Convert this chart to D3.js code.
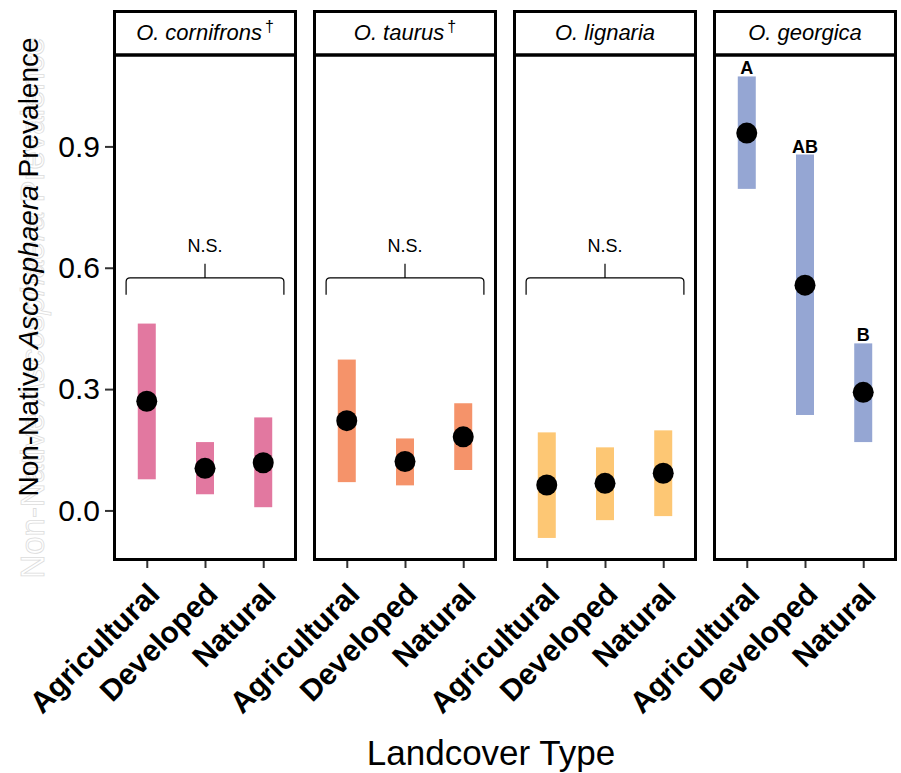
<!DOCTYPE html>
<html>
<head>
<meta charset="utf-8">
<script src="https://cdn.jsdelivr.net/npm/d3@7"></script>
<style>
  body { margin: 0; background: #fff; }
  svg { display: block; font-family: "Liberation Sans", Arial, sans-serif; }
</style>
</head>
<body>
<div id="chart"></div>
<script>
// data
const species = ["O. cornifrons", "O. taurus", "O. lignaria", "O. georgica"];
const hasDagger = [true, true, false, false];
const landcover = ["Agricultural", "Developed", "Natural"];

const prevalence = [
  [0.270, 0.104, 0.118],
  [0.222, 0.121, 0.182],
  [0.063, 0.067, 0.092],
  [0.933, 0.557, 0.292]
];
const lower = [
  [0.077, 0.040, 0.008],
  [0.070, 0.062, 0.100],
  [-0.068, -0.024, -0.014],
  [0.795, 0.236, 0.169]
];
const upper = [
  [0.462, 0.169, 0.230],
  [0.373, 0.178, 0.265],
  [0.193, 0.156, 0.198],
  [1.073, 0.880, 0.413]
];
const groupLetters = [null, null, null, ["A", "AB", "B"]];
const bracketLabel = ["N.S.", "N.S.", "N.S.", null];
const yTicks = [0.0, 0.3, 0.6, 0.9];
const barColors = ["#E278A0", "#F5936A", "#FDC774", "#95A6D3"];

const width = 901, height = 773;
const panelLeft = 113, panelW = 184, panelStep = 200;
const stripTop = 10, plotTop = 55, plotBottom = 561;

const svg = d3.select("#chart").append("svg")
  .attr("width", width)
  .attr("height", height);

const y = d3.scaleLinear()
  .domain([-0.125, 1.126])
  .range([plotBottom, plotTop]);

// y axis on the first panel
const yAxis = svg.append("g")
  .attr("transform", `translate(${panelLeft},0)`)
  .call(d3.axisLeft(y).tickValues(yTicks).tickFormat(d3.format(".1f")).tickSize(8).tickPadding(5));
yAxis.select(".domain").remove();
yAxis.selectAll(".tick line").attr("stroke", "#333").attr("stroke-width", 2);
yAxis.selectAll(".tick text")
  .attr("font-size", 30)
  .attr("fill", "#000")
  .attr("font-family", "Liberation Sans, Arial, sans-serif");

species.forEach((sp, i) => {
  const x0 = panelLeft + i * panelStep;
  const x = d3.scalePoint()
    .domain(landcover)
    .range([x0, x0 + panelW])
    .padding(0.58);

  const g = svg.append("g").attr("class", "panel");

  // strip
  g.append("rect")
    .attr("x", x0 + 1.5).attr("y", stripTop + 1.5)
    .attr("width", panelW - 3).attr("height", plotTop - stripTop - 1.5)
    .attr("fill", "#fff").attr("stroke", "#000").attr("stroke-width", 3);

  const label = g.append("text")
    .attr("x", x0 + panelW / 2)
    .attr("y", 40)
    .attr("text-anchor", "middle")
    .attr("font-size", 22)
    .attr("fill", "#000");
  const parts = sp.split(" ");
  label.append("tspan").attr("font-style", "italic").text(parts[0]);
  label.append("tspan").attr("font-style", "italic").attr("dx", 6).text(parts[1]);
  if (hasDagger[i]) {
    label.append("tspan")
      .attr("font-size", 16)
      .attr("dx", 3)
      .attr("dy", -8)
      .text("\u2020");
  }

  // panel border
  g.append("rect")
    .attr("x", x0 + 1.5).attr("y", plotTop)
    .attr("width", panelW - 3).attr("height", plotBottom - plotTop - 1.5)
    .attr("fill", "none").attr("stroke", "#000").attr("stroke-width", 3);

  // x axis
  const xAxis = g.append("g")
    .attr("transform", `translate(0,${plotBottom})`)
    .call(d3.axisBottom(x).tickSize(7).tickPadding(4));
  xAxis.select(".domain").remove();
  xAxis.selectAll(".tick line").attr("stroke", "#333").attr("stroke-width", 2);
  xAxis.selectAll(".tick text")
    .attr("font-size", 30)
    .attr("font-weight", "bold")
    .attr("fill", "#000")
    .attr("font-family", "Liberation Sans, Arial, sans-serif")
    .attr("text-anchor", "end")
    .attr("y", 0).attr("dy", 0)
    .attr("transform", "translate(14,35) rotate(-45)");

  const rows = landcover.map((lc, j) => ({
    lc, mid: prevalence[i][j], lo: lower[i][j], hi: upper[i][j]
  }));

  // interval bars
  g.selectAll(".ci")
    .data(rows)
    .join("rect")
    .attr("class", "ci")
    .attr("x", d => x(d.lc) - 9)
    .attr("width", 18)
    .attr("y", d => y(d.hi))
    .attr("height", d => y(d.lo) - y(d.hi))
    .attr("fill", barColors[i]);

  // estimates
  g.selectAll(".est")
    .data(rows)
    .join("circle")
    .attr("class", "est")
    .attr("cx", d => x(d.lc))
    .attr("cy", d => y(d.mid))
    .attr("r", 10.5)
    .attr("fill", "#000");

  // significance bracket
  if (bracketLabel[i]) {
    const step = x.step();
    const bx1 = x(landcover[0]) - 0.355 * step;
    const bx2 = x(landcover[2]) + 0.355 * step;
    const by = y(0.575), byEnd = y(0.533), byTop = y(0.610);
    const r = 4;
    const path = d3.path();
    path.moveTo(bx1, byEnd);
    path.lineTo(bx1, by + r);
    path.quadraticCurveTo(bx1, by, bx1 + r, by);
    path.lineTo(bx2 - r, by);
    path.quadraticCurveTo(bx2, by, bx2, by + r);
    path.lineTo(bx2, byEnd);
    path.moveTo((bx1 + bx2) / 2, by);
    path.lineTo((bx1 + bx2) / 2, byTop);
    g.append("path")
      .attr("d", path.toString())
      .attr("fill", "none")
      .attr("stroke", "#000")
      .attr("stroke-width", 1.2);
    g.append("text")
      .attr("x", (bx1 + bx2) / 2)
      .attr("y", y(0.640))
      .attr("text-anchor", "middle")
      .attr("font-size", 18)
      .text(bracketLabel[i]);
  }

  // compact letter display
  if (groupLetters[i]) {
    g.selectAll(".cld")
      .data(rows)
      .join("text")
      .attr("class", "cld")
      .attr("x", d => x(d.lc))
      .attr("y", d => y(d.hi) - 2)
      .attr("text-anchor", "middle")
      .attr("font-size", 18)
      .attr("font-weight", "bold")
      .text((d, j) => groupLetters[i][j]);
  }
});

// y title: faint ghost copy behind, then the real one
function yTitle(sel) {
  sel.append("tspan").text("Non-Native ");
  sel.append("tspan").attr("font-style", "italic").text("Ascosphaera");
  sel.append("tspan").text(" Prevalence");
}
svg.append("text")
  .attr("transform", `translate(44,${(plotTop + plotBottom) / 2}) rotate(-90)`)
  .attr("text-anchor", "middle")
  .attr("font-size", 33)
  .attr("fill", "#fff")
  .attr("stroke", "#dcdcdc")
  .attr("stroke-width", 0.8)
  .call(yTitle);
svg.append("text")
  .attr("transform", `translate(38,267) rotate(-90)`)
  .attr("text-anchor", "middle")
  .attr("font-size", 28)
  .attr("fill", "#000")
  .call(yTitle);

// x title
svg.append("text")
  .attr("x", 491)
  .attr("y", 765)
  .attr("text-anchor", "middle")
  .attr("font-size", 35)
  .text("Landcover Type");
</script>
</body>
</html>
